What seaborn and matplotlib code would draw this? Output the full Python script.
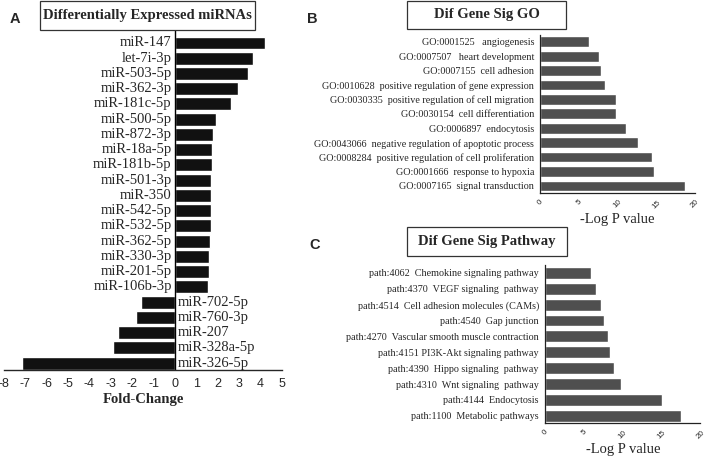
import matplotlib
matplotlib.use("Agg")
import matplotlib.pyplot as plt
from matplotlib.patches import Rectangle
import seaborn as sns
import pandas as pd

# Panel A: differentially expressed miRNAs (fold-change)
mirna_names = [
    "miR-147", "let-7i-3p", "miR-503-5p", "miR-362-3p", "miR-181c-5p",
    "miR-500-5p", "miR-872-3p", "miR-18a-5p", "miR-181b-5p", "miR-501-3p",
    "miR-350", "miR-542-5p", "miR-532-5p", "miR-362-5p", "miR-330-3p",
    "miR-201-5p", "miR-106b-3p", "miR-702-5p", "miR-760-3p", "miR-207",
    "miR-328a-5p", "miR-326-5p",
]
mirna_fc = [
    4.2, 3.65, 3.4, 2.95, 2.6, 1.9, 1.8, 1.73, 1.72, 1.7, 1.69, 1.68,
    1.67, 1.66, 1.6, 1.57, 1.54, -1.6, -1.82, -2.65, -2.9, -7.15,
]
fc_ticks = list(range(-8, 6))

# Panel B: GO terms (-log P)
go_terms = [
    "GO:0001525   angiogenesis",
    "GO:0007507   heart development",
    "GO:0007155  cell adhesion",
    "GO:0010628  positive regulation of gene expression",
    "GO:0030335  positive regulation of cell migration",
    "GO:0030154  cell differentiation",
    "GO:0006897  endocytosis",
    "GO:0043066  negative regulation of apoptotic process",
    "GO:0008284  positive regulation of cell proliferation",
    "GO:0001666  response to hypoxia",
    "GO:0007165  signal transduction",
]
go_logp = [6.3, 7.6, 7.8, 8.4, 9.8, 9.85, 11.05, 12.7, 14.5, 14.7, 18.75]

# Panel C: pathways (-log P)
pathways = [
    "path:4062  Chemokine signaling pathway",
    "path:4370  VEGF signaling  pathway",
    "path:4514  Cell adhesion molecules (CAMs)",
    "path:4540  Gap junction",
    "path:4270  Vascular smooth muscle contraction",
    "path:4151 PI3K-Akt signaling pathway",
    "path:4390  Hippo signaling  pathway",
    "path:4310  Wnt signaling  pathway",
    "path:4144  Endocytosis",
    "path:1100  Metabolic pathways",
]
path_logp = [5.85, 6.6, 7.2, 7.6, 8.15, 8.3, 8.85, 9.7, 15.0, 17.5]
logp_ticks = [0, 5, 10, 15, 20]

SERIF = "Liberation Serif"
SANS = "Liberation Sans"
BAR_A = "#111111"
BAR_BC = "#4f4f4f"
W, H = 709, 462


def title_box(fig, x0, y0, x1, y1, text, size):
    # box given in pixels from top-left
    rect = Rectangle((x0 / W, 1 - y1 / H), (x1 - x0) / W, (y1 - y0) / H,
                     transform=fig.transFigure, fc="white", ec="#333333", lw=0.9)
    fig.patches.append(rect)
    fig.text((x0 + x1) / 2 / W, 1 - (y0 + y1) / 2 / H, text, ha="center", va="center",
             fontsize=size, fontweight="bold", family=SERIF)


def draw_mirna(ax):
    df = pd.DataFrame({"name": mirna_names, "fc": mirna_fc})
    sns.barplot(data=df, x="fc", y="name", orient="h", color=BAR_A,
                saturation=1, width=0.85, ax=ax)
    ax.set_xlim(-8, 5)
    ax.set_ylim(len(mirna_names) - 0.54, -0.85)
    ax.axvline(0, color="black", lw=1.0)
    for s in ["left", "right", "top"]:
        ax.spines[s].set_visible(False)
    ax.spines["bottom"].set_linewidth(1.0)
    ax.set_yticks([])
    ax.set_ylabel("")
    for i, (n, v) in enumerate(zip(mirna_names, mirna_fc)):
        if v >= 0:
            ax.text(-0.15, i, n, ha="right", va="center", family=SERIF, fontsize=10.5)
        else:
            ax.text(0.15, i, n, ha="left", va="center", family=SERIF, fontsize=10.5)
    ax.set_xticks(fc_ticks)
    ax.set_xticklabels([str(t) for t in fc_ticks], family=SANS, fontsize=9)
    ax.tick_params(axis="x", length=4, width=1.0, direction="out", pad=2)
    ax.set_xlabel("Fold-Change", family=SERIF, fontweight="bold", fontsize=10.5, labelpad=2)


def draw_enrich(ax, labels, values, top_pad, bot_pad):
    df = pd.DataFrame({"term": labels, "v": values})
    sns.barplot(data=df, x="v", y="term", orient="h", color=BAR_BC,
                saturation=1, width=0.75, ax=ax)
    ax.set_xlim(0, 20)
    ax.set_ylim(len(labels) - 1 + bot_pad, -top_pad)
    for s in ["right", "top"]:
        ax.spines[s].set_visible(False)
    for s in ["left", "bottom"]:
        ax.spines[s].set_linewidth(0.9)
        ax.spines[s].set_color("#222222")
    ax.set_ylabel("")
    ax.set_yticks(range(len(labels)))
    ax.set_yticklabels(labels, family=SERIF, fontsize=7.3)
    ax.tick_params(axis="y", length=3, width=0.8, pad=1.5)
    ax.set_xticks(logp_ticks)
    ax.set_xticklabels([str(t) for t in logp_ticks], family=SANS, fontsize=5.8, rotation=45)
    ax.tick_params(axis="x", length=3, width=0.8, pad=1)
    ax.set_xlabel("-Log P value", family=SERIF, fontsize=10.5, labelpad=2)


def main():
    sns.set_theme(style="white")
    fig = plt.figure(figsize=(7.09, 4.62), dpi=100)

    ax_a = fig.add_axes([0.0056, 0.199, 0.392, 0.736])
    draw_mirna(ax_a)

    ax_b = fig.add_axes([0.762, 0.582, 0.218, 0.342])
    draw_enrich(ax_b, go_terms, go_logp, 0.46, 0.5)

    ax_c = fig.add_axes([0.769, 0.084, 0.219, 0.342])
    draw_enrich(ax_c, pathways, path_logp, 0.48, 0.46)

    title_box(fig, 40, 0.5, 255, 30, "Differentially Expressed miRNAs", 10.5)
    title_box(fig, 407, 0.5, 566, 29, "Dif Gene Sig GO", 10.5)
    title_box(fig, 407, 227, 567, 256, "Dif Gene Sig Pathway", 10.5)

    for x, y, t in [(15, 19, "A"), (312, 19, "B"), (315, 245, "C")]:
        fig.text(x / W, 1 - y / H, t, ha="center", va="center",
                 family=SANS, fontweight="bold", fontsize=10.5)

    fig.savefig("out.png", dpi=100)
    plt.close(fig)


if __name__ == "__main__":
    main()
